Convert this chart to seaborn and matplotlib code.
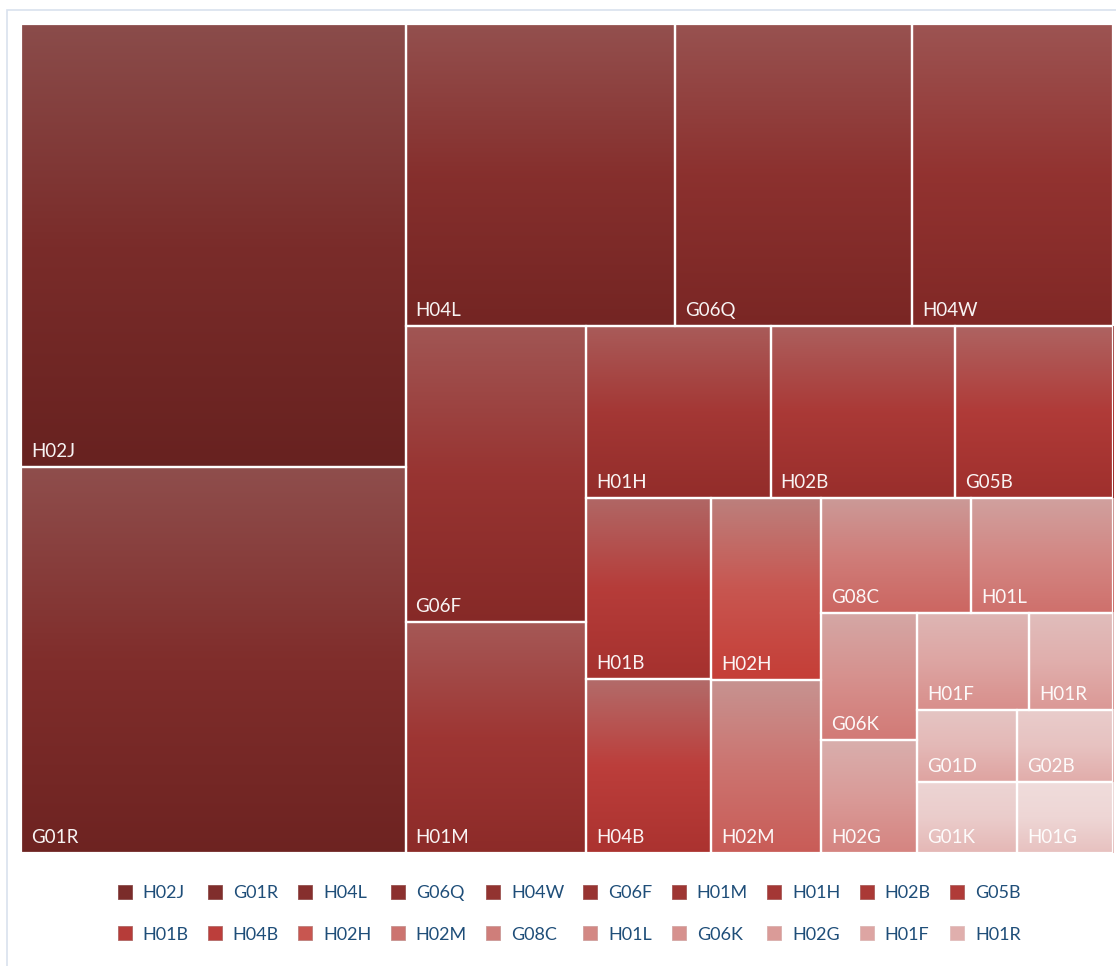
import seaborn as sns
import numpy as np
import matplotlib.pyplot as plt
import matplotlib.colors as mcolors
import colorsys
from matplotlib.patches import Rectangle
from matplotlib.lines import Line2D

# class codes and their sizes
codes = ["H02J", "G01R", "H04L", "G06Q", "H04W", "G06F", "H01M", "H01H",
         "H02B", "G05B", "H01B", "H04B", "H02H", "H02M", "G08C", "H01L",
         "G06K", "H02G", "H01F", "H01R", "G01D", "G02B", "G01K", "H01G"]
counts = [188, 164, 90, 79, 67, 59, 46, 35, 35, 30, 25, 24, 22, 21, 19, 18,
          13.5, 12, 12, 9, 8, 7.7, 7.8, 7.5]
legend_codes = codes[:20]

# how Excel cut the area: items per strip, strip as column (v) or row (h)
strips = [(2, "v"), (3, "h"), (2, "v"), (3, "h"), (2, "v"), (2, "v"),
          (2, "h"), (2, "v"), (2, "h"), (2, "h"), (2, "h")]

W, H = 1092.0, 829.0


def slice_layout(sizes, strips, x, y, dx, dy):
    out = []
    k = 0
    for cnt, orient in strips:
        part = sizes[k:k + cnt]
        k += cnt
        s = sum(part)
        if orient == "v":
            w = s / dy
            yy = y
            for a in part:
                out.append((x, yy, w, a / w))
                yy += a / w
            x += w
            dx -= w
        else:
            h = s / dx
            xx = x
            for a in part:
                out.append((xx, y, a / h, h))
                xx += a / h
            y += h
            dy -= h
    return out


tot = sum(counts)
areas = [c * W * H / tot for c in counts]
rects = slice_layout(areas, strips, 0, 0, W, H)

pal = list(sns.blend_palette(["#7A2C2A", "#BC3E3B"], 12)) + ["#C85650"] + \
    list(sns.blend_palette(["#CC7470", "#EED6D5"], 11))
pal = [mcolors.to_rgb(c) for c in pal]


def shade(c, dl, fs):
    h, l, s = colorsys.rgb_to_hls(*c)
    return colorsys.hls_to_rgb(h, min(1, max(0, l + dl)), min(1, s * fs))


def top_col(c):
    l = colorsys.rgb_to_hls(*c)[1]
    fs = 0.62 + 0.33 * min(1, max(0, (l - 0.55) / 0.35))
    return shade(c, 0.14 * (1 - l), fs)


sns.set_theme(style="white")
plt.rcParams['font.family'] = ['Lato', 'DejaVu Sans']

fig = plt.figure(figsize=(11.16, 9.66), dpi=100)
fig.patches.append(Rectangle((7 / 1116, -0.1), 1.2, (966 - 10) / 966 + 0.1,
                             transform=fig.transFigure, fill=False,
                             edgecolor="#D9E1EE", lw=1.2, zorder=0))
ax = fig.add_axes([21 / 1116, (966 - 853) / 966, 1092 / 1116, 829 / 966])

n = 64
t = np.linspace(0, 1, n)
for (x, y, dx, dy), code, c in zip(rects, codes, pal):
    top = np.array(top_col(c))
    mid = np.array(c)
    bot = np.array(shade(c, -0.055, 1.08))
    grad = np.where(t[:, None] < 0.5,
                    top + (mid - top) * (t[:, None] / 0.5),
                    mid + (bot - mid) * ((t[:, None] - 0.5) / 0.5))
    img = np.clip(grad, 0, 1)[:, None, :]
    ax.imshow(img, extent=(x, x + dx, y + dy, y), aspect='auto',
              interpolation='bilinear', zorder=1)
    ax.add_patch(Rectangle((x, y), dx, dy, fill=False, edgecolor="white",
                           lw=1.6, zorder=2))
    ax.text(x + 10, y + dy - 10, code, color="white", fontsize=13.5,
            ha="left", va="baseline", zorder=3, alpha=0.95)

ax.set_xlim(0, W)
ax.set_ylim(H, 0)
ax.set_axis_off()

# legend fills column by column, so interleave to get two rows of ten
order = []
for i in range(10):
    order += [i, i + 10]
handles = [Line2D([], [], ls="none", marker="s", markersize=10,
                  markerfacecolor=pal[i],
                  markeredgecolor=mcolors.to_hex(top_col(pal[i])),
                  markeredgewidth=0.6)
           for i in order]
labels = [legend_codes[i] for i in order]
leg = fig.legend(handles, labels, loc="center", ncol=10,
                 bbox_to_anchor=(0.5 + 11 / 1116, (966 - 914) / 966),
                 frameon=False, fontsize=13, handlelength=0.8,
                 handletextpad=0.6, columnspacing=1.05, labelspacing=1.4)
for txt in leg.get_texts():
    txt.set_color("#1F4E79")

fig.savefig("out.png", dpi=100)
